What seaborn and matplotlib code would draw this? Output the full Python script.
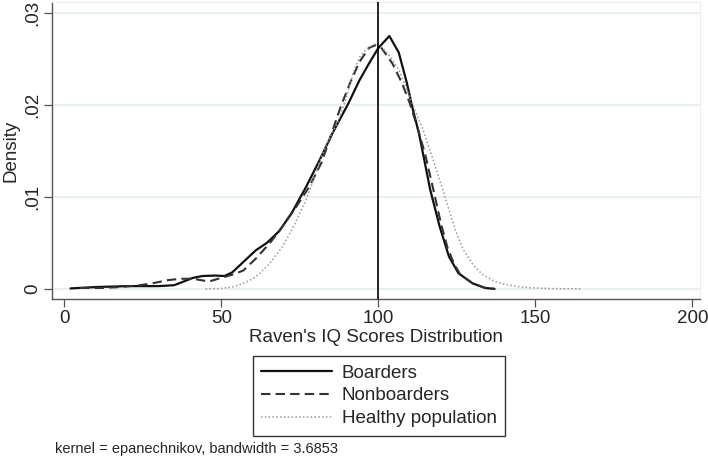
import numpy as np
import pandas as pd
import matplotlib
matplotlib.use("Agg")
import matplotlib.pyplot as plt
import seaborn as sns

# Density curves
boarders_x = [2, 10, 20, 30, 35, 38, 41, 44, 48, 51, 53.5, 56, 58.5, 61, 64.5, 68.5, 72.5, 77, 81,
              85.5, 90.5, 94, 97, 100, 103.5, 106.5, 109, 111, 113, 116.5, 119.5, 122.5, 125.5, 130, 134, 137]
boarders_y = [0.00005, 0.0002, 0.0003, 0.0003, 0.0004, 0.0008, 0.0012, 0.0014, 0.00145, 0.0014, 0.0018,
              0.0026, 0.0034, 0.0042, 0.0050, 0.0063, 0.0083, 0.0111, 0.0138, 0.0170, 0.0202, 0.0227,
              0.0245, 0.0262, 0.0275, 0.0257, 0.0225, 0.0195, 0.0168, 0.0108, 0.0068, 0.0035, 0.0017,
              0.0006, 0.0001, 0.0]

nonboarders_x = [5, 12, 18, 24, 28, 33, 37, 41, 46, 51, 54, 57, 61, 65.5, 69.5, 74, 78, 82, 85, 88, 91,
                 94, 97, 99, 101, 104.5, 107.5, 110, 112.5, 115, 117.5, 120, 122, 124, 126, 130, 134, 137]
nonboarders_y = [0.0001, 0.0001, 0.0002, 0.0004, 0.0006, 0.00095, 0.0011, 0.0011, 0.0008, 0.0013, 0.0016,
                 0.0020, 0.0033, 0.0050, 0.0068, 0.0090, 0.0111, 0.0138, 0.0168, 0.0198, 0.0224, 0.0247,
                 0.0262, 0.0265, 0.0262, 0.0245, 0.0224, 0.0202, 0.0175, 0.0145, 0.0108, 0.0070, 0.0045,
                 0.0028, 0.0016, 0.0006, 0.0001, 0.0]

healthy_x = [45, 50, 53.5, 57, 60, 62, 65.5, 69.5, 73.5, 77, 79.5, 82, 85, 87, 90, 92, 94, 96, 98.5, 101,
             104, 107, 111, 114, 117, 120.5, 124.5, 127, 130, 133, 136.5, 140, 145.5, 150, 156, 165]
healthy_y = [0.0, 0.00005, 0.0002, 0.0006, 0.0011, 0.0016, 0.0028, 0.0046, 0.0071, 0.0097, 0.0120, 0.0145,
             0.0168, 0.0180, 0.0210, 0.0235, 0.0252, 0.0260, 0.0266, 0.0263, 0.0252, 0.0235, 0.0200, 0.0175,
             0.0145, 0.0108, 0.0064, 0.0043, 0.0027, 0.0016, 0.0009, 0.0005, 0.0002, 0.0001, 0.00003, 0.0]

series_names = ["Boarders", "Nonboarders", "Healthy population"]
xticks = [0, 50, 100, 150, 200]
yticks = [0, 0.01, 0.02, 0.03]
ytick_labels = ["0", ".01", ".02", ".03"]
ref_line = 100
note_text = "kernel = epanechnikov, bandwidth = 3.6853"

df = pd.concat([
    pd.DataFrame({"score": boarders_x, "density": boarders_y, "group": series_names[0]}),
    pd.DataFrame({"score": nonboarders_x, "density": nonboarders_y, "group": series_names[1]}),
    pd.DataFrame({"score": healthy_x, "density": healthy_y, "group": series_names[2]}),
])

sns.set_style("white")
plt.rcParams["font.family"] = ["Liberation Sans", "DejaVu Sans"]

W, H = 708, 459
fig = plt.figure(figsize=(W / 100, H / 100), dpi=100)
ax = fig.add_axes([52 / W, 1 - 299 / H, (700 - 52) / W, (299 - 2) / H])

styles = {
    "Boarders": dict(color="#111111", lw=1.6, ls="-"),
    "Nonboarders": dict(color="#333333", lw=1.5, ls=(0, (4.5, 2.5))),
    "Healthy population": dict(color="#9a9a9a", lw=1.1, ls=(0, (1, 1.5))),
}
for name in series_names:
    sub = df[df["group"] == name]
    sns.lineplot(data=sub, x="score", y="density", ax=ax, estimator=None, sort=True,
                 color=styles[name]["color"], linewidth=styles[name]["lw"],
                 linestyle=styles[name]["ls"], label=name, legend=False)

ax.axvline(ref_line, color="black", lw=1.2, zorder=3)

ax.set_xlim(-3.9, 202.4)
ax.set_ylim(-0.0011, 0.0312)
ax.set_xticks(xticks)
ax.set_xticklabels([str(t) for t in xticks], fontsize=13.5)
ax.set_yticks(yticks)
ax.set_yticklabels(ytick_labels, fontsize=13.5, rotation=90, va="center")
ax.grid(axis="y", color="#e6eff0", lw=1.3)
ax.grid(axis="x", visible=False)
ax.set_axisbelow(True)

for side in ["left", "bottom"]:
    ax.spines[side].set_color("#555555")
    ax.spines[side].set_linewidth(1.0)
for side in ["top", "right"]:
    ax.spines[side].set_color("#eeeeee")
    ax.spines[side].set_linewidth(0.8)
ax.tick_params(axis="both", direction="out", length=6, width=0.9, color="#555555",
               left=True, bottom=True, pad=2)

ax.set_xlabel("Raven's IQ Scores Distribution", fontsize=13.5, labelpad=1)
ax.set_ylabel("Density", fontsize=13.5, labelpad=3)

handles, labels = ax.get_legend_handles_labels()
leg = fig.legend(handles, labels, loc="upper center", bbox_to_anchor=(379 / W, 1 - 356 / H),
                 borderaxespad=0, frameon=True, fancybox=False, fontsize=13.5, handlelength=3.8,
                 handletextpad=0.5, labelspacing=0.3, borderpad=0.45)
leg.get_frame().set_edgecolor("black")
leg.get_frame().set_linewidth(1.0)

fig.text(55 / W, 1 - 449 / H, note_text, fontsize=10.5, va="center", ha="left")

fig.savefig("out.png", dpi=100)
